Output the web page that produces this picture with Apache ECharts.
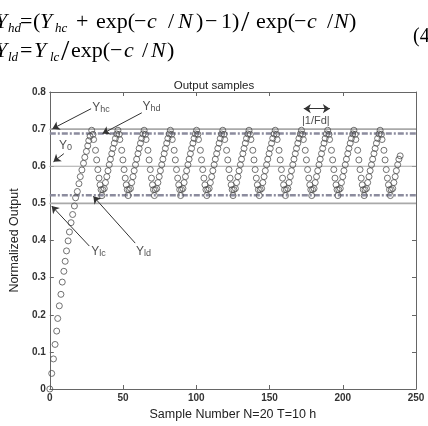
<!DOCTYPE html>
<html>
<head>
<meta charset="utf-8">
<script src="https://cdn.jsdelivr.net/npm/echarts@6/dist/echarts.min.js"></script>
<style>
html,body{margin:0;padding:0;background:#fff}
#chart{width:428px;height:426px}
</style>
</head>
<body>
<div id="chart"></div>
<script>
// samples: first ramp, then one line per sawtooth cycle
var sampleX = [
  0, 1.3, 2.5, 3.6, 4.7, 5.4, 6.5, 7.6, 8.5, 9.6, 10.5, 11.4, 12.5, 13.4, 14.5, 15.6, 16.8, 17.6, 18.8, 19.9, 20.8, 21.9, 23.0, 23.9, 25.0, 25.9, 26.6, 27.5,
  28.6, 29.5, 29.9, 31.2, 32.0, 32.8, 33.6, 34.3, 35.0, 36.2, 35.6, 37.2, 38.0, 38.9, 39.7, 40.6, 41.4, 42.3, 43.1, 44.0, 44.8, 45.7,
  46.5, 47.4, 47.8, 49.1, 49.9, 50.7, 51.5, 52.2, 52.9, 54.1, 53.5, 55.1, 55.9, 56.8, 57.6, 58.5, 59.3, 60.2, 61.0, 61.9, 62.7, 63.6,
  64.4, 65.3, 65.7, 67.0, 67.8, 68.6, 69.4, 70.1, 70.8, 72.0, 71.4, 73.0, 73.8, 74.7, 75.5, 76.4, 77.2, 78.1, 78.9, 79.8, 80.6, 81.5,
  82.3, 83.2, 83.6, 84.9, 85.7, 86.5, 87.3, 88.0, 88.7, 89.9, 89.3, 90.9, 91.7, 92.6, 93.4, 94.3, 95.1, 96.0, 96.8, 97.7, 98.5, 99.4,
  100.2, 101.1, 101.5, 102.8, 103.6, 104.4, 105.2, 105.9, 106.6, 107.8, 107.2, 108.8, 109.6, 110.5, 111.3, 112.2, 113.0, 113.9, 114.7, 115.6, 116.4, 117.3,
  118.1, 119.0, 119.4, 120.7, 121.5, 122.3, 123.1, 123.8, 124.5, 125.7, 125.1, 126.7, 127.5, 128.4, 129.2, 130.1, 130.9, 131.8, 132.6, 133.5, 134.3, 135.2,
  136.0, 136.9, 137.3, 138.6, 139.4, 140.2, 141.0, 141.7, 142.4, 143.6, 143.0, 144.6, 145.4, 146.3, 147.1, 148.0, 148.8, 149.7, 150.5, 151.4, 152.2, 153.1,
  153.9, 154.8, 155.2, 156.5, 157.3, 158.1, 158.9, 159.6, 160.3, 161.5, 160.9, 162.5, 163.3, 164.2, 165.0, 165.9, 166.7, 167.6, 168.4, 169.3, 170.1, 171.0,
  171.8, 172.7, 173.1, 174.4, 175.2, 176.0, 176.8, 177.5, 178.2, 179.4, 178.8, 180.4, 181.2, 182.1, 182.9, 183.8, 184.6, 185.5, 186.3, 187.2, 188.0, 188.9,
  189.7, 190.6, 191.0, 192.3, 193.1, 193.9, 194.7, 195.4, 196.1, 197.3, 196.7, 198.3, 199.1, 200.0, 200.8, 201.7, 202.5, 203.4, 204.2, 205.1, 205.9, 206.8,
  207.6, 208.5, 208.9, 210.2, 211.0, 211.8, 212.6, 213.3, 214.0, 215.2, 214.6, 216.2, 217.0, 217.9, 218.7, 219.6, 220.4, 221.3, 222.1, 223.0, 223.8, 224.7,
  225.5, 226.4, 226.8, 228.1, 228.9, 229.7, 230.5, 231.2, 231.9, 233.1, 232.5, 234.1, 234.9, 235.8, 236.6, 237.5, 238.3, 239.2
];
var sampleY = [
  0, 0.042, 0.081, 0.120, 0.156, 0.190, 0.224, 0.255, 0.288, 0.317, 0.344, 0.372, 0.399, 0.423, 0.448, 0.470, 0.493, 0.515, 0.532, 0.553, 0.572, 0.590, 0.608, 0.624, 0.640, 0.655, 0.669, 0.681,
  0.697, 0.686, 0.672, 0.643, 0.617, 0.591, 0.568, 0.550, 0.537, 0.537, 0.521, 0.540, 0.556, 0.572, 0.588, 0.604, 0.619, 0.634, 0.648, 0.662, 0.675, 0.687,
  0.697, 0.686, 0.672, 0.643, 0.617, 0.591, 0.568, 0.550, 0.537, 0.537, 0.521, 0.540, 0.556, 0.572, 0.588, 0.604, 0.619, 0.634, 0.648, 0.662, 0.675, 0.687,
  0.697, 0.686, 0.672, 0.643, 0.617, 0.591, 0.568, 0.550, 0.537, 0.537, 0.521, 0.540, 0.556, 0.572, 0.588, 0.604, 0.619, 0.634, 0.648, 0.662, 0.675, 0.687,
  0.697, 0.686, 0.672, 0.643, 0.617, 0.591, 0.568, 0.550, 0.537, 0.537, 0.521, 0.540, 0.556, 0.572, 0.588, 0.604, 0.619, 0.634, 0.648, 0.662, 0.675, 0.687,
  0.697, 0.686, 0.672, 0.643, 0.617, 0.591, 0.568, 0.550, 0.537, 0.537, 0.521, 0.540, 0.556, 0.572, 0.588, 0.604, 0.619, 0.634, 0.648, 0.662, 0.675, 0.687,
  0.697, 0.686, 0.672, 0.643, 0.617, 0.591, 0.568, 0.550, 0.537, 0.537, 0.521, 0.540, 0.556, 0.572, 0.588, 0.604, 0.619, 0.634, 0.648, 0.662, 0.675, 0.687,
  0.697, 0.686, 0.672, 0.643, 0.617, 0.591, 0.568, 0.550, 0.537, 0.537, 0.521, 0.540, 0.556, 0.572, 0.588, 0.604, 0.619, 0.634, 0.648, 0.662, 0.675, 0.687,
  0.697, 0.686, 0.672, 0.643, 0.617, 0.591, 0.568, 0.550, 0.537, 0.537, 0.521, 0.540, 0.556, 0.572, 0.588, 0.604, 0.619, 0.634, 0.648, 0.662, 0.675, 0.687,
  0.697, 0.686, 0.672, 0.643, 0.617, 0.591, 0.568, 0.550, 0.537, 0.537, 0.521, 0.540, 0.556, 0.572, 0.588, 0.604, 0.619, 0.634, 0.648, 0.662, 0.675, 0.687,
  0.697, 0.686, 0.672, 0.643, 0.617, 0.591, 0.568, 0.550, 0.537, 0.537, 0.521, 0.540, 0.556, 0.572, 0.588, 0.604, 0.619, 0.634, 0.648, 0.662, 0.675, 0.687,
  0.697, 0.686, 0.672, 0.643, 0.617, 0.591, 0.568, 0.550, 0.537, 0.537, 0.521, 0.540, 0.556, 0.572, 0.588, 0.604, 0.619, 0.634, 0.648, 0.662, 0.675, 0.687,
  0.697, 0.686, 0.672, 0.643, 0.617, 0.591, 0.568, 0.550, 0.537, 0.537, 0.521, 0.540, 0.556, 0.572, 0.588, 0.604, 0.619, 0.628
];

// threshold levels Yhc, Yhd, Y0, Yld, Ylc
var levelValues = [0.7, 0.688, 0.6, 0.522, 0.5];
var levelDashed = [false, true, false, true, false];

// labels for the levels and where their arrows point
var noteSub = ['hc', 'hd', '0', 'lc', 'ld'];
var noteX = [34.9, 69.5, 10.7, 33.2, 64.0];
var noteY = [0.757, 0.760, 0.655, 0.370, 0.370];
var arrowFrom = [[28.2, 0.755], [62.8, 0.744], [9.6, 0.634], [27.0, 0.385], [58.3, 0.393]];
var arrowTo = [[1.8, 0.701], [36.0, 0.688], [2.5, 0.612], [1.3, 0.493], [29.7, 0.519]];

var chart = echarts.init(document.getElementById('chart'));

var sans = 'Liberation Sans';
var serif = 'Liberation Serif';
var axisColor = '#666';

// equation pieces above the plot: text, left x, middle y, style
var eqFonts = {
  r: '22px "' + serif + '"',
  i: 'italic 22px "' + serif + '"',
  s: 'italic 13px "' + serif + '"',
  b: '30px "' + serif + '"',
  n: '20px "' + serif + '"'
};
var eqPieces = [
  ['Y', -5, 22, 'i'], ['hd', 8, 29, 's'], ['=', 20, 22, 'r'], ['(', 33, 22, 'r'],
  ['Y', 40, 22, 'i'], ['hc', 55, 29, 's'], ['+', 76, 22, 'r'], ['exp(', 96, 22, 'r'],
  ['\u2212', 134, 22, 'r'], ['c', 147, 22, 'i'], ['/', 168, 22, 'r'], ['N', 178, 22, 'i'],
  [')', 196, 22, 'r'], ['\u2212', 205, 22, 'r'], ['1)', 221, 22, 'r'], ['/', 241, 23, 'b'],
  ['exp(', 256, 22, 'r'], ['\u2212', 294, 22, 'r'], ['c', 307, 22, 'i'], ['/', 327, 22, 'r'],
  ['N', 334, 22, 'i'], [')', 349, 22, 'r'],
  ['Y', -5, 51, 'i'], ['ld', 8, 58, 's'], ['=', 20, 51, 'r'], ['Y', 34, 51, 'i'],
  ['lc', 50, 58, 's'], ['/', 61, 52, 'b'], ['exp(', 71, 51, 'r'], ['\u2212', 110, 51, 'r'],
  ['c', 124, 51, 'i'], ['/', 142, 51, 'r'], ['N', 151, 51, 'i'], [')', 167, 51, 'r'],
  ['(4', 413, 37, 'n']
];

var graphics = eqPieces.map(function (p) {
  return {
    type: 'text', x: p[1], y: p[2], silent: true,
    style: { text: p[0], font: eqFonts[p[3]], fill: '#000', verticalAlign: 'middle', align: 'left' }
  };
});

var series = [];
levelValues.forEach(function (v, i) {
  series.push({
    type: 'line',
    data: [[0, v], [250, v]],
    symbol: 'none',
    silent: true,
    z: 1,
    lineStyle: levelDashed[i]
      ? { color: '#8c8c9e', width: 2.5, type: [6, 2, 2, 2] }
      : { color: '#a9a9a9', width: v === 0.6 ? 1.2 : 1.8, type: 'solid' }
  });
});

series.push({
  name: 'Output samples',
  type: 'scatter',
  z: 3,
  symbol: 'circle',
  symbolSize: 6,
  itemStyle: { color: 'rgba(0,0,0,0)', borderColor: '#505050', borderWidth: 1 },
  data: sampleX.map(function (x, i) { return [x, sampleY[i]]; })
});

var arrowData = arrowFrom.map(function (a, i) {
  return [{ coord: a }, { coord: arrowTo[i] }];
});
arrowData.push([{ coord: [173.4, 0.755], symbol: 'arrow' }, { coord: [191.2, 0.755], symbol: 'arrow' }]);

var noteData = noteX.map(function (x, i) {
  return { value: [x, noteY[i]], label: { formatter: '{m|Y}{s|' + noteSub[i] + '}' } };
});
noteData.push({ value: [181.6, 0.723], label: { formatter: '{f||1/Fd|}' } });

series.push({
  type: 'scatter',
  z: 4,
  silent: true,
  symbolSize: 0,
  data: noteData,
  label: {
    show: true,
    position: 'inside',
    color: '#222',
    rich: {
      m: { fontFamily: sans, fontSize: 12, lineHeight: 12, verticalAlign: 'top', color: '#222' },
      s: { fontFamily: sans, fontSize: 9, lineHeight: 9, verticalAlign: 'bottom', padding: [5, 0, 0, 0], color: '#222' },
      f: { fontFamily: sans, fontSize: 11, color: '#222' }
    }
  },
  markLine: {
    silent: true,
    animation: false,
    symbol: ['none', 'arrow'],
    symbolSize: 7,
    label: { show: false },
    lineStyle: { color: '#333', width: 1, type: 'solid' },
    data: arrowData
  }
});

function valueAxis(pos, isX) {
  return {
    type: 'value',
    position: pos,
    min: 0,
    max: isX ? 250 : 0.8,
    interval: isX ? 50 : 0.1,
    splitLine: { show: false },
    axisLine: { show: true, onZero: false, lineStyle: { color: axisColor, width: 1 } },
    axisTick: { show: true, inside: true, length: 4, lineStyle: { color: axisColor } },
    axisLabel: { show: false }
  };
}

var xBottom = valueAxis('bottom', true);
xBottom.axisLabel = { show: true, margin: 4, fontFamily: sans, fontWeight: 'bold', fontSize: 10, color: '#333' };
xBottom.name = 'Sample Number N=20 T=10 h';
xBottom.nameLocation = 'middle';
xBottom.nameGap = 19;
xBottom.nameTextStyle = { fontFamily: sans, fontSize: 12.5, color: '#222' };

var yLeft = valueAxis('left', false);
yLeft.axisLabel = {
  show: true, margin: 4, fontFamily: sans, fontWeight: 'bold', fontSize: 10, color: '#333',
  formatter: function (v) { return v === 0 ? '0' : v.toFixed(1); }
};
yLeft.name = 'Normalized Output';
yLeft.nameLocation = 'middle';
yLeft.nameRotate = 90;
yLeft.nameGap = 20;
yLeft.nameTextStyle = { fontFamily: sans, fontSize: 12.5, color: '#222' };

chart.setOption({
  animation: false,
  backgroundColor: '#fff',
  title: {
    text: 'Output samples',
    left: 'center',
    top: 75,
    textStyle: { fontFamily: sans, fontSize: 11.5, fontWeight: 'normal', color: '#222' }
  },
  grid: { left: 43, right: 12, top: 92, bottom: 31, containLabel: false },
  xAxis: [xBottom, valueAxis('top', true)],
  yAxis: [yLeft, valueAxis('right', false)],
  graphic: graphics,
  series: series
});
</script>
</body>
</html>
